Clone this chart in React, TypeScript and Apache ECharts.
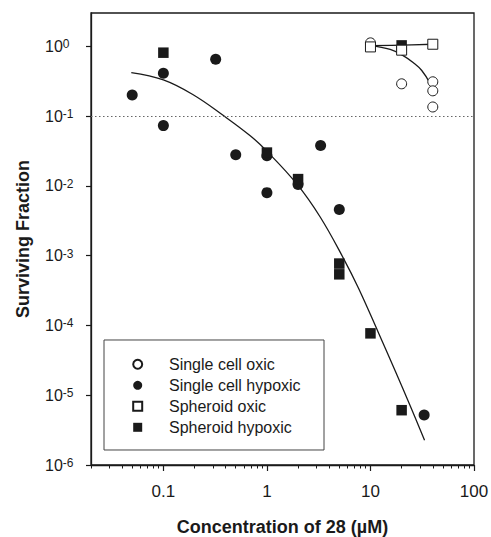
import React, { useEffect, useRef } from "react";
import * as echarts from "echarts";

// ---- data ----
const xTickValues = [0.1, 1, 10, 100];
const xMinorTickValues = [
  0.02, 0.03, 0.04, 0.05, 0.06, 0.07, 0.08, 0.09,
  0.2, 0.3, 0.4, 0.5, 0.6, 0.7, 0.8, 0.9,
  2, 3, 4, 5, 6, 7, 8, 9,
  20, 30, 40, 50, 60, 70, 80, 90,
];
const yTickValues = [1e-6, 1e-5, 1e-4, 1e-3, 1e-2, 1e-1, 1];
const thresholdValue = 0.1;

const seriesNames = [
  "Single cell oxic",
  "Single cell hypoxic",
  "Spheroid oxic",
  "Spheroid hypoxic",
];

const singleCellOxic: [number, number][] = [
  [10, 1.12], [20, 0.29], [40, 0.31], [40, 0.23], [40, 0.135],
];
const singleCellHypoxic: [number, number][] = [
  [0.05, 0.2], [0.1, 0.41], [0.1, 0.073], [0.32, 0.65], [0.5, 0.028],
  [1, 0.027], [1, 0.008], [2, 0.0105], [3.3, 0.038], [5, 0.0046], [33, 5.2e-6],
];
const spheroidOxic: [number, number][] = [
  [10, 0.98], [20, 0.88], [40, 1.07],
];
const spheroidHypoxic: [number, number][] = [
  [0.1, 0.81], [1, 0.03], [2, 0.0125], [5, 7.7e-4], [5, 5.4e-4],
  [10, 7.7e-5], [20, 6.1e-6], [20, 1.03],
];

// fitted curves as drawn in the reference
const hypoxicFit: [number, number][] = [
  [0.049, 0.42], [0.1, 0.33], [0.194, 0.202], [0.386, 0.1], [0.69, 0.0522],
  [1.0, 0.0313], [1.96, 0.0105], [3.27, 0.00358], [5.5, 9.08e-4],
  [7.67, 3.41e-4], [12, 7.73e-5], [17.4, 2.21e-5], [24.3, 6.96e-6], [33.3, 2.27e-6],
];
const oxicFit: [number, number][] = [
  [10, 1.02], [15.5, 0.9], [20.5, 0.74], [26, 0.58], [31.3, 0.45],
  [37.8, 0.29], [40.6, 0.21],
];
const spheroidOxicFit: [number, number][] = [
  [10, 1.02], [20, 1.04], [40, 1.07],
];

const FONT = "'Liberation Sans', Arial, Helvetica, sans-serif";
const INK = "#1a1a1a";

export default function App() {
  const ref = useRef<HTMLDivElement>(null);

  useEffect(() => {
    if (!ref.current) return;
    const chart = echarts.init(ref.current, undefined, { renderer: "svg" });

    const openStyle = { color: "#ffffff", borderColor: INK, borderWidth: 1, opacity: 1 };
    const filledStyle = { color: INK, opacity: 1 };

    const option: any = {
      animation: false,
      backgroundColor: "#ffffff",
      textStyle: { fontFamily: FONT, color: INK },
      grid: {
        left: 91,
        top: 13,
        right: 17,
        bottom: 72,
        show: true,
        borderColor: INK,
        borderWidth: 1.3,
        outerBoundsMode: "none",
        containLabel: false,
      },
      legend: {
        data: [
          { name: seriesNames[0], icon: "circle" },
          { name: seriesNames[1], icon: "circle" },
          { name: seriesNames[2], icon: "rect" },
          { name: seriesNames[3], icon: "rect" },
        ],
        orient: "vertical",
        left: 104,
        top: 340,
        itemWidth: 9,
        itemHeight: 9,
        itemGap: 5,
        padding: [16.3, 18, 14.7, 28.2],
        borderColor: "#444",
        borderWidth: 1,
        backgroundColor: "#ffffff",
        selectedMode: false,
        textStyle: {
          fontFamily: FONT,
          fontSize: 16,
          color: INK,
          lineHeight: 16,
          width: 137,
          padding: [0, 0, 0, 21.8],
        },
      },
      xAxis: [
        {
          type: "log",
          logBase: 10,
          min: 0.02,
          max: 100,
          name: "Concentration of 28 (\u00b5M)",
          nameLocation: "middle",
          nameGap: 53,
          nameTextStyle: { fontFamily: FONT, fontSize: 18, fontWeight: "bold", color: INK },
          axisLine: { show: true, lineStyle: { color: INK, width: 1.3 } },
          axisTick: { show: true, inside: false, length: 6, customValues: xTickValues, lineStyle: { color: INK, width: 1.2 } },
          axisLabel: {
            show: true,
            customValues: xTickValues,
            margin: 18,
            fontFamily: FONT,
            fontSize: 17,
            color: INK,
            formatter: (v: number) => String(v),
          },
          splitLine: { show: false },
          minorTick: { show: false },
        },
        {
          type: "log",
          logBase: 10,
          min: 0.02,
          max: 100,
          gridIndex: 0,
          position: "bottom",
          axisLine: { show: false },
          axisTick: { show: true, inside: false, length: 3.5, customValues: xMinorTickValues, lineStyle: { color: INK, width: 1 } },
          axisLabel: { show: false },
          splitLine: { show: false },
        },
      ],
      yAxis: {
        type: "log",
        logBase: 10,
        min: 1e-6,
        max: 3,
        name: "Surviving Fraction",
        nameLocation: "middle",
        nameGap: 59,
        nameRotate: 90,
        nameTextStyle: { fontFamily: FONT, fontSize: 18, fontWeight: "bold", color: INK },
        axisLine: { show: true, lineStyle: { color: INK, width: 1.3 } },
        axisTick: { show: true, inside: false, length: 5, customValues: yTickValues, lineStyle: { color: INK, width: 1.2 } },
        axisLabel: {
          show: true,
          customValues: yTickValues,
          margin: 46,
          align: "left",
          fontFamily: FONT,
          color: INK,
          formatter: (v: number) => `{b|10}{s|${Math.round(Math.log10(v))}}`,
          rich: {
            b: { fontFamily: FONT, fontSize: 16, color: INK },
            s: { fontFamily: FONT, fontSize: 12, color: INK, verticalAlign: "top" },
          },
        },
        splitLine: { show: false },
      },
      series: [
        {
          type: "line",
          name: "hypoxic fit",
          data: hypoxicFit,
          smooth: 0.4,
          showSymbol: false,
          symbol: "none",
          silent: true,
          lineStyle: { color: INK, width: 1.3 },
          z: 1,
          markLine: {
            silent: true,
            symbol: ["none", "none"],
            label: { show: false },
            lineStyle: { type: [1.5, 2.5], color: "#666", width: 1.1 },
            data: [{ yAxis: thresholdValue }],
          },
        },
        {
          type: "line",
          name: "oxic fit",
          data: oxicFit,
          smooth: 0.4,
          showSymbol: false,
          symbol: "none",
          silent: true,
          lineStyle: { color: INK, width: 1.3 },
          z: 1,
        },
        {
          type: "line",
          name: "spheroid oxic fit",
          data: spheroidOxicFit,
          smooth: 0.4,
          showSymbol: false,
          symbol: "none",
          silent: true,
          lineStyle: { color: INK, width: 1.3 },
          z: 1,
        },
        {
          type: "scatter",
          name: seriesNames[0],
          data: singleCellOxic,
          symbol: "circle",
          symbolSize: 10,
          itemStyle: openStyle,
          z: 2,
        },
        {
          type: "scatter",
          name: seriesNames[1],
          data: singleCellHypoxic,
          symbol: "circle",
          symbolSize: 11,
          itemStyle: filledStyle,
          z: 2,
        },
        {
          type: "scatter",
          name: seriesNames[3],
          data: spheroidHypoxic,
          symbol: "rect",
          symbolSize: 10.5,
          itemStyle: filledStyle,
          z: 3,
        },
        {
          type: "scatter",
          name: seriesNames[2],
          data: spheroidOxic,
          symbol: "rect",
          symbolSize: 10,
          itemStyle: openStyle,
          z: 4,
        },
      ],
    };

    chart.setOption(option);
    return () => {
      chart.dispose();
    };
  }, []);

  return (
    <div
      ref={ref}
      style={{ position: "fixed", left: 0, top: 0, width: 491, height: 537, background: "#fff" }}
    />
  );
}
